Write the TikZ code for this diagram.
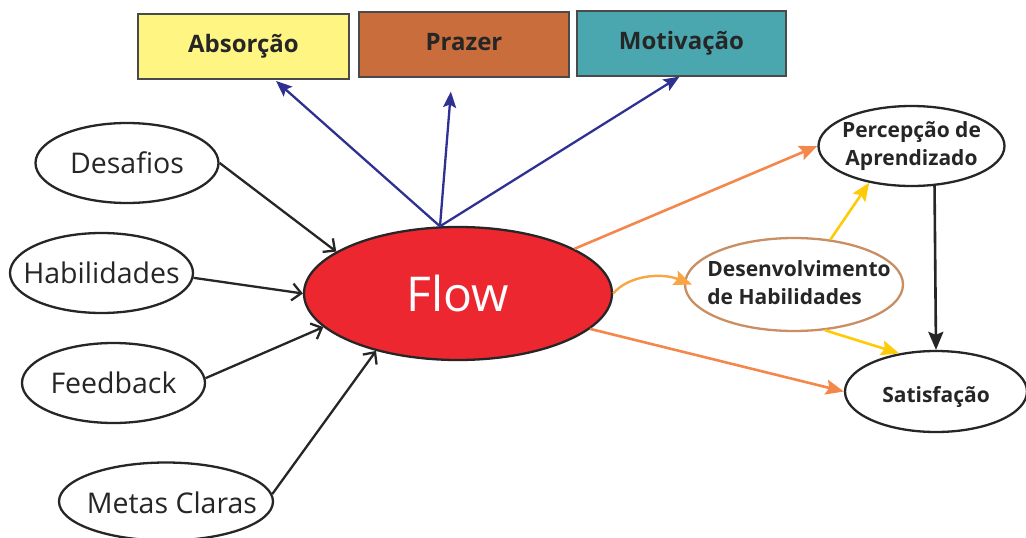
\documentclass[tikz,border=0pt]{standalone}
\usepackage{fontspec}
\setmainfont{Open Sans}
\usetikzlibrary{shapes.geometric,arrows.meta}

\definecolor{ink}{HTML}{262626}
\definecolor{boxline}{HTML}{4A4A4A}
\definecolor{paleyellow}{HTML}{FFF582}
\definecolor{clay}{HTML}{C96D3C}
\definecolor{teal}{HTML}{4AA7AF}
\definecolor{navy}{HTML}{2E3192}
\definecolor{flowred}{HTML}{EC2730}
\definecolor{tangerine}{HTML}{F4874B}
\definecolor{apricot}{HTML}{F9A543}
\definecolor{tan}{HTML}{C98E62}
\definecolor{gold}{HTML}{FFCB08}

% zero-width text so the ellipse keeps the size it is given
\newcommand\flatbox[1]{\makebox[0pt]{#1}}

\tikzset{
  tag/.style={rectangle, draw=boxline, line width=1.2pt, minimum height=65pt,
    font=\fontsize{24}{28}\selectfont\bfseries, text=ink,
    text height=18pt, text depth=6pt, inner sep=0pt},
  bubble/.style={ellipse, draw=ink, line width=2.3pt, fill=white, inner sep=0pt,
    text=ink, font=\fontsize{28.5}{32}\selectfont,
    text height=24.2pt, text depth=3.8pt},
  result/.style={ellipse, draw=ink, line width=2.3pt, fill=white, inner sep=0pt,
    text=ink, font=\fontsize{21}{28}\selectfont\bfseries},
  inlink/.style={draw=ink, line width=2.3pt,
    -{Straight Barb[length=9pt,width=17pt]}},
  uplink/.style={draw=navy, line width=2.3pt,
    -{Stealth[length=16pt,width=13pt,inset=3pt]}},
  outlink/.style={line width=2.6pt,
    -{Stealth[length=18pt,width=15pt,inset=3pt]}}
}

\begin{document}
\begin{tikzpicture}[x=1pt,y=-1pt]
\useasboundingbox (0,0) rectangle (1026,538);

% outcome boxes along the top
\node[tag, fill=paleyellow, minimum width=211pt] (absorcao) at (243.5,46.5) {Absorção};
\node[tag, fill=clay, minimum width=210pt] (prazer) at (464,44.5) {Prazer};
\node[tag, fill=teal, minimum width=209pt] (motiv) at (681.5,43.5) {Motivação};

% antecedents on the left
\node[bubble, minimum width=183pt, minimum height=80pt] (desafios) at (127,163) {\flatbox{Desafios}};
\node[bubble, minimum width=183pt, minimum height=80pt] (habil) at (101.5,273) {\flatbox{Habilidades}};
\node[bubble, minimum width=183pt, minimum height=80pt] (feed) at (113.5,383) {\flatbox{Feedback}};
\node[bubble, minimum width=214pt, minimum height=78pt,
      text height=25.7pt, text depth=2.3pt] (metas) at (166,501.5) {\flatbox{\hspace*{12pt}Metas Claras}};

% central state
\node[ellipse, draw=ink, line width=2.3pt, fill=flowred, inner sep=0pt,
      minimum width=308pt, minimum height=133pt, text=white,
      font=\fontsize{48}{50}\selectfont] (flow) at (458,293.5) {\flatbox{Flow}};

% consequences on the right
\node[result, minimum width=186pt, minimum height=80pt] (percep) at (911.5,146)
  {\flatbox{\begin{tabular}{@{}c@{}}Percepção de\\Aprendizado\end{tabular}}};
\node[result, draw=tan, minimum width=218pt, minimum height=93pt] (desenv) at (794,284.5)
  {\flatbox{\hspace*{10pt}\begin{tabular}{@{}l@{}}Desenvolvimento\\de Habilidades\end{tabular}}};
\node[result, minimum width=182pt, minimum height=81pt,
      text height=24.5pt, text depth=3.5pt] (satisf) at (936,391.5) {\flatbox{Satisfação}};

% inputs into Flow
\draw[inlink] (desafios.east) -- (flow.161);
\draw[inlink] (habil.-3) -- (flow.west);
\draw[inlink] (feed.3) -- (flow.194);
\draw[inlink] (metas.4) -- (flow.215);

% Flow towards the top boxes
\draw[uplink, shorten >=2pt] (flow.105) -- ([xshift=31pt]absorcao.south);
\draw[uplink, shorten >=14pt] (flow.105) -- ([xshift=-12pt]prazer.south);
\draw[uplink] (flow.105) -- ([xshift=-2pt]motiv.south);

% Flow towards the consequences
\draw[outlink, draw=tangerine] (flow.21) -- (percep.west);
\draw[outlink, draw=tangerine] (flow.-15) -- (satisf.west);
\draw[outlink, draw=apricot, line width=2.4pt]
  (flow.east) .. controls (628,276) and (660,272) .. ([xshift=8pt]desenv.west);
\draw[outlink, draw=gold] (desenv.51) -- (percep.221);
\draw[outlink, draw=gold] (desenv.-56) -- (satisf.134);
\draw[outlink, draw=ink] (percep.-60) -- (satisf.north);
\end{tikzpicture}
\end{document}
